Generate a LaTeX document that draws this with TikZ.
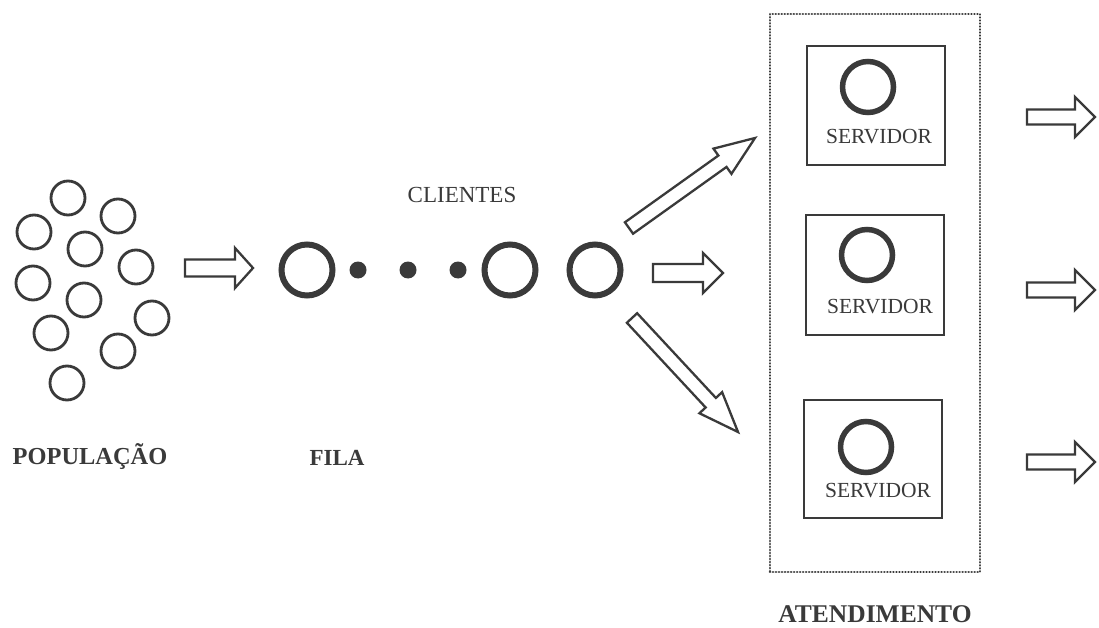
\documentclass[tikz,border=0pt]{standalone}
\usepackage{fontspec}
\setmainfont{Liberation Serif}
\usetikzlibrary{calc}
\definecolor{ink}{HTML}{3A3A3A}
\newcommand\blockarrow[5]{% tail, tip, shaft half, head half, head length
  \coordinate (hb) at ($(#2)!#5pt!(#1)$);
  \draw[barrow] ($(#1)!#3pt!90:(#2)$) -- ($(hb)!#3pt!-90:(#1)$) -- ($(hb)!#4pt!-90:(#1)$) -- (#2)
    -- ($(hb)!#4pt!90:(#1)$) -- ($(hb)!#3pt!90:(#1)$) -- ($(#1)!#3pt!-90:(#2)$) -- cycle;}
\begin{document}
\begin{tikzpicture}[x=1pt,y=-1pt,
  pop/.style={circle,draw=ink,line width=2.8pt,minimum size=34pt,inner sep=0pt},
  client/.style={circle,draw=ink,line width=6pt,minimum size=51pt,inner sep=0pt},
  dot/.style={circle,fill=ink,minimum size=17pt,inner sep=0pt},
  srvcircle/.style={circle,draw=ink,line width=5.5pt,minimum size=51pt,inner sep=0pt},
  srvbox/.style={draw=ink,line width=2.2pt,minimum width=138pt,inner sep=0pt},
  dotbox/.style={draw=ink,line width=2.7pt,line cap=round,dash pattern=on 0.01pt off 3pt,minimum width=210pt,minimum height=558pt,inner sep=0pt},
  barrow/.style={draw=ink,line width=2.3pt,line join=miter,fill=white},
  lbl/.style={text=ink,font=\bfseries,anchor=base,inner sep=0pt},
  small/.style={text=ink,font=\fontsize{23}{26}\selectfont,anchor=base,inner sep=0pt},
  srvtext/.style={text=ink,font=\fontsize{21.5}{24}\selectfont,anchor=base,inner sep=0pt}]
\useasboundingbox (0,0) rectangle (1099,628);
\fill[white] (0,0) rectangle (1099,628);
% population
\node[pop] (p1) at (68,198) {};
\node[pop] (p2) at (118,216) {};
\node[pop] (p3) at (34,232) {};
\node[pop] (p4) at (85,249) {};
\node[pop] (p5) at (136,267) {};
\node[pop] (p6) at (33,283) {};
\node[pop] (p7) at (84,300) {};
\node[pop] (p8) at (152,318) {};
\node[pop] (p9) at (51,333) {};
\node[pop] (p10) at (118,351) {};
\node[pop] (p11) at (67,383) {};
% queue
\node[client] (c1) at (307,270) {};
\node[dot] (d1) at (358,270) {};
\node[dot] (d2) at (408,270) {};
\node[dot] (d3) at (458,270) {};
\node[client] (c2) at (510,270) {};
\node[client] (c3) at (595,270) {};
% attendance
\node[dotbox] (atend) at (875,293) {};
\node[srvbox,minimum height=119pt] (s1) at (876,105.5) {};
\node[srvbox,minimum height=120pt] (s2) at (875,275) {};
\node[srvbox,minimum height=118pt] (s3) at (873,459) {};
\node[srvcircle] (sc1) at (868,87) {};
\node[srvcircle] (sc2) at (867,255) {};
\node[srvcircle] (sc3) at (866,447) {};
\node[srvtext] (st1) at (879,144) {SERVIDOR};
\node[srvtext] (st2) at (880,313) {SERVIDOR};
\node[srvtext] (st3) at (878,497) {SERVIDOR};
% labels
\node[small] (cli) at (462,203) {CLIENTES};
\node[lbl,font=\fontsize{24.4}{28}\selectfont\bfseries] (lpop) at (90,464) {POPULAÇÃO};
\node[lbl,font=\fontsize{23}{26}\selectfont\bfseries] (lfila) at (337,465) {FILA};
\node[lbl,font=\fontsize{25.5}{29}\selectfont\bfseries] (latend) at (875,622) {ATENDIMENTO};
% arrows
\coordinate (a1t) at (185,268); \coordinate (a1h) at (253,268);
\coordinate (a2t) at (653,273); \coordinate (a2h) at (723,273);
\coordinate (a3t) at (629,228); \coordinate (a3h) at (755,138);
\coordinate (a4t) at (632,318); \coordinate (a4h) at (738,432);
\coordinate (o1t) at (1027,117); \coordinate (o1h) at (1095,117);
\coordinate (o2t) at (1027,290); \coordinate (o2h) at (1095,290);
\coordinate (o3t) at (1027,462); \coordinate (o3h) at (1095,462);
\blockarrow{a1t}{a1h}{8.5}{20}{18}
\blockarrow{a2t}{a2h}{9}{20}{20}
\blockarrow{a3t}{a3h}{7}{15.5}{40}
\blockarrow{a4t}{a4h}{7}{15.5}{40}
\blockarrow{o1t}{o1h}{7.5}{20}{20}
\blockarrow{o2t}{o2h}{7.5}{20}{20}
\blockarrow{o3t}{o3h}{7.5}{20}{20}
\end{tikzpicture}
\end{document}
